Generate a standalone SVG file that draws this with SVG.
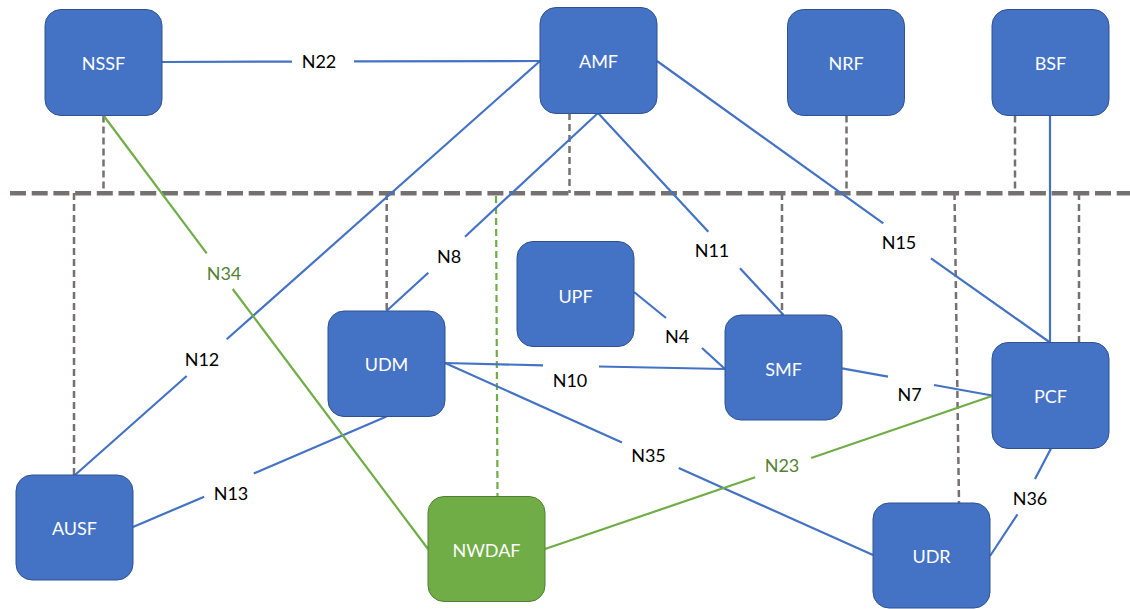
<svg xmlns="http://www.w3.org/2000/svg" width="1130" height="609" viewBox="0 0 1130 609">
<style>
.node rect{fill:#4472C4;stroke:#2F528F;stroke-width:1}
.node.green rect{fill:#70AD47;stroke:#507E32}
.node text{fill:#FFFFFF;font-family:Lato,"Noto Sans","Liberation Sans",sans-serif;font-size:18px;text-anchor:middle;dominant-baseline:central}
.lbl{fill:#000000;font-family:Lato,"Noto Sans","Liberation Sans",sans-serif;font-size:18px;text-anchor:middle;dominant-baseline:central}
.lbl.g{fill:#548235}
.ln{fill:none;stroke:#4472C4;stroke-width:2.2}
.gl{fill:none;stroke:#70AD47;stroke-width:2.2}
.gd{fill:none;stroke:#70AD47;stroke-width:2.2;stroke-dasharray:7 4}
.dd{fill:none;stroke:#767171;stroke-width:2.5;stroke-dasharray:7 4}
.bus{fill:none;stroke:#767171;stroke-width:4.5;stroke-dasharray:16 5.7}
</style>
<rect width="1130" height="609" fill="#FFFFFF"/>
<g id="connectors">
  <path class="bus" d="M10 193.3 H1130"/>
  <!-- dashed drops -->
  <path class="dd" d="M103.5 115.5 V193"/>
  <path class="dd" d="M569.5 113 V193"/>
  <path class="dd" d="M846.5 115.5 V193"/>
  <path class="dd" d="M1015 115.5 V193"/>
  <path class="dd" d="M74 193 V475"/>
  <path class="dd" d="M386.7 193 V311"/>
  <path class="dd" d="M782 193 V315"/>
  <path class="dd" d="M954.5 193 L959 503"/>
  <path class="dd" d="M1079 193 V342.5"/>
  <path class="gd" d="M496 196 L497.5 496.5"/>
  <!-- solid links -->
  <path class="ln" d="M162 62 L292 61.6 M354 61.4 L540 61"/>
  <path class="ln" d="M540 61 L226.7 339.3 M186.7 376 L75 475"/>
  <path class="ln" d="M598 113 L465 236.7 M428.3 272.7 L386.5 311"/>
  <path class="ln" d="M598 113 L708.3 231.7 M740 268.3 L783.5 315"/>
  <path class="ln" d="M657 61 L883.3 223.4 M931 258.3 L1050 342.5"/>
  <path class="ln" d="M1050 115.5 V342.5"/>
  <path class="ln" d="M634 292 L666 318 M702 348 L725 369"/>
  <path class="ln" d="M445 363 L543 365.3 M599 366.5 L725 369"/>
  <path class="ln" d="M842 368.3 L888 376.7 M934 385 L992 395.5"/>
  <path class="ln" d="M386.5 416.5 L253.8 473.5 M204.2 496.7 L133 527"/>
  <path class="ln" d="M445 363 L622 442.4 M678.7 468 L873 555"/>
  <path class="ln" d="M1051 448.5 L1035 479 M1017.5 514.3 L990 556"/>
  <path class="gl" d="M103.5 115.5 L206.7 253.3 M232.7 289 L428 549"/>
  <path class="gl" d="M545 549 L755.2 477.2 M811.2 458 L992 396"/>
</g>
<g id="labels">
  <text class="lbl" x="319" y="61">N22</text>
  <text class="lbl g" x="224" y="273">N34</text>
  <text class="lbl" x="202" y="359">N12</text>
  <text class="lbl" x="449" y="256">N8</text>
  <text class="lbl" x="712" y="250">N11</text>
  <text class="lbl" x="677" y="336">N4</text>
  <text class="lbl" x="570" y="380">N10</text>
  <text class="lbl" x="899" y="242">N15</text>
  <text class="lbl" x="909.5" y="394">N7</text>
  <text class="lbl" x="231" y="493">N13</text>
  <text class="lbl" x="648.5" y="455">N35</text>
  <text class="lbl g" x="782" y="464.5">N23</text>
  <text class="lbl" x="1030" y="497.5">N36</text>
</g>
<g id="NSSF" class="node"><rect x="45" y="9.5" width="117" height="106" rx="16"/><text x="103.5" y="63">NSSF</text></g>
<g id="AMF" class="node"><rect x="540" y="7.5" width="117" height="106" rx="16"/><text x="598.5" y="61">AMF</text></g>
<g id="NRF" class="node"><rect x="787.5" y="9.5" width="117" height="106" rx="16"/><text x="846" y="63">NRF</text></g>
<g id="BSF" class="node"><rect x="992" y="9.5" width="117" height="106" rx="16"/><text x="1050.5" y="63">BSF</text></g>
<g id="UPF" class="node"><rect x="517" y="241.5" width="117" height="105" rx="16"/><text x="575.5" y="296">UPF</text></g>
<g id="UDM" class="node"><rect x="328" y="311" width="117" height="105.5" rx="16"/><text x="386.5" y="364">UDM</text></g>
<g id="SMF" class="node"><rect x="725" y="315" width="117" height="105" rx="16"/><text x="783.5" y="369">SMF</text></g>
<g id="PCF" class="node"><rect x="992" y="342.5" width="117" height="106" rx="16"/><text x="1050.5" y="396">PCF</text></g>
<g id="AUSF" class="node"><rect x="16" y="475" width="117" height="105" rx="16"/><text x="74.5" y="528">AUSF</text></g>
<g id="NWDAF" class="node green"><rect x="428" y="496.5" width="117" height="105" rx="16"/><text x="486.5" y="550">NWDAF</text></g>
<g id="UDR" class="node"><rect x="873" y="503" width="117" height="105" rx="16"/><text x="931.5" y="556">UDR</text></g>
</svg>
